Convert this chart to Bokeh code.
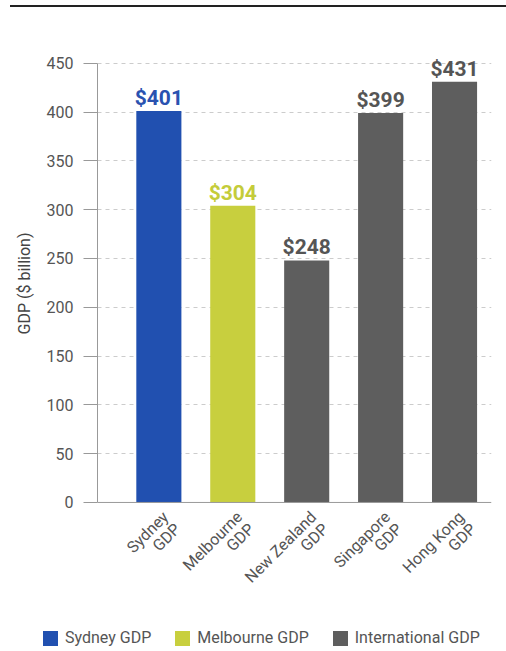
import math
from bokeh.plotting import figure
from bokeh.models import (Range1d, ColumnDataSource, Div, FixedTicker, LabelSet, Span, Title)
from bokeh.layouts import column
from bokeh.embed import file_html
from bokeh.resources import INLINE
from bokeh.core.properties import value

cat_line1 = ["Sydney", "Melbourne", "New Zealand", "Singapore", "Hong Kong"]
cat_line2 = ["GDP", "GDP", "GDP", "GDP", "GDP"]
values = [401, 304, 248, 399, 431]
groups = ["Sydney GDP", "Melbourne GDP", "International GDP", "International GDP", "International GDP"]
legend_groups = ["Sydney GDP", "Melbourne GDP", "International GDP"]
group_colors = {"Sydney GDP": "#2150b0", "Melbourne GDP": "#c8cf3e", "International GDP": "#5e5e5e"}
label_colors = {"Sydney GDP": "#2a52b0", "Melbourne GDP": "#c4cc3a", "International GDP": "#555555"}
y_ticks = [0, 50, 100, 150, 200, 250, 300, 350, 400, 450]

FONT = "Roboto"

p = figure(frame_width=394, frame_height=547, output_backend="svg", toolbar_location=None,
           x_range=Range1d(-0.83, 4.5), y_range=Range1d(-100.45, 460), x_axis_location=None,
           min_border_left=97, min_border_right=7, min_border_top=40, min_border_bottom=20)
p.outline_line_color = None
p.background_fill_color = "white"

for g in legend_groups:
    xs = [i for i, gg in enumerate(groups) if gg == g]
    src = ColumnDataSource(dict(x=xs, top=[values[i] for i in xs],
                                lab=["$%d" % values[i] for i in xs]))
    p.vbar(x="x", top="top", width=0.61, source=src, fill_color=group_colors[g], line_color=None,
           legend_label=g)
    p.add_layout(LabelSet(x="x", y="top", text="lab", source=src, text_align="center",
                          text_baseline="bottom", y_offset=1, text_font=value(FONT),
                          text_font_size="21px", text_font_style="bold",
                          text_color=label_colors[g]))
# the legend is drawn as an HTML strip below the chart
p.legend.visible = False

# baseline at zero
p.add_layout(Span(location=0, dimension="width", line_color="#999999", line_width=1))

# category labels, rotated, two lines each
xs_all = list(range(len(cat_line1)))
src1 = ColumnDataSource(dict(x=xs_all, y=[0] * len(xs_all), lab=cat_line1))
src2 = ColumnDataSource(dict(x=xs_all, y=[0] * len(xs_all), lab=cat_line2))
for src, dx, dy in [(src1, 0, -5), (src2, 12, -17)]:
    p.add_layout(LabelSet(x="x", y="y", text="lab", source=src, angle=math.pi / 4,
                          text_align="right", text_baseline="top", x_offset=dx, y_offset=dy,
                          text_font=value(FONT), text_font_size="16px", text_color="#555555"))

# y axis
p.yaxis.ticker = FixedTicker(ticks=y_ticks)
p.yaxis.bounds = (0, 450)
p.yaxis.major_label_text_font = FONT
p.yaxis.major_label_text_font_size = "16px"
p.yaxis.major_label_text_color = "#555555"
p.yaxis.axis_line_color = "#999999"
p.yaxis.major_tick_line_color = "#999999"
p.yaxis.major_tick_out = 14
p.yaxis.major_tick_in = 0
p.yaxis.minor_tick_line_color = None
p.yaxis.major_label_standoff = 10

# y axis title, centred on the 0-450 span
p.add_layout(Title(text="GDP ($ billion)", align="left", offset=266, text_font=FONT,
                   text_font_style="normal", text_font_size="16px", text_color="#444444",
                   standoff=20), "left")

p.xgrid.grid_line_color = None
p.ygrid.ticker = FixedTicker(ticks=y_ticks[1:])
p.ygrid.grid_line_color = "#cccccc"
p.ygrid.grid_line_dash = "4 4"

# legend strip
parts = []
for k, g in enumerate(legend_groups):
    ml = 0 if k == 0 else 24
    parts.append(
        '<span style="display:inline-block;width:15px;height:15px;background:%s;'
        'margin-left:%dpx;margin-right:7px;"></span><span>%s</span>' % (group_colors[g], ml, g))
legend_html = ('<div style="display:flex;align-items:center;height:26px;padding-left:38px;'
               'font-family:Roboto;font-size:16px;color:#555555;white-space:nowrap;">'
               + "".join(parts) + "</div>")
legend_div = Div(text=legend_html, width=498, height=26)

top_rule = Div(text="", width=496, height=3, styles={"border-top": "2px solid #222222", "margin-left": "10px"})
layout = column(top_rule, p, legend_div)

open("out.html", "w").write(file_html(layout, INLINE))
